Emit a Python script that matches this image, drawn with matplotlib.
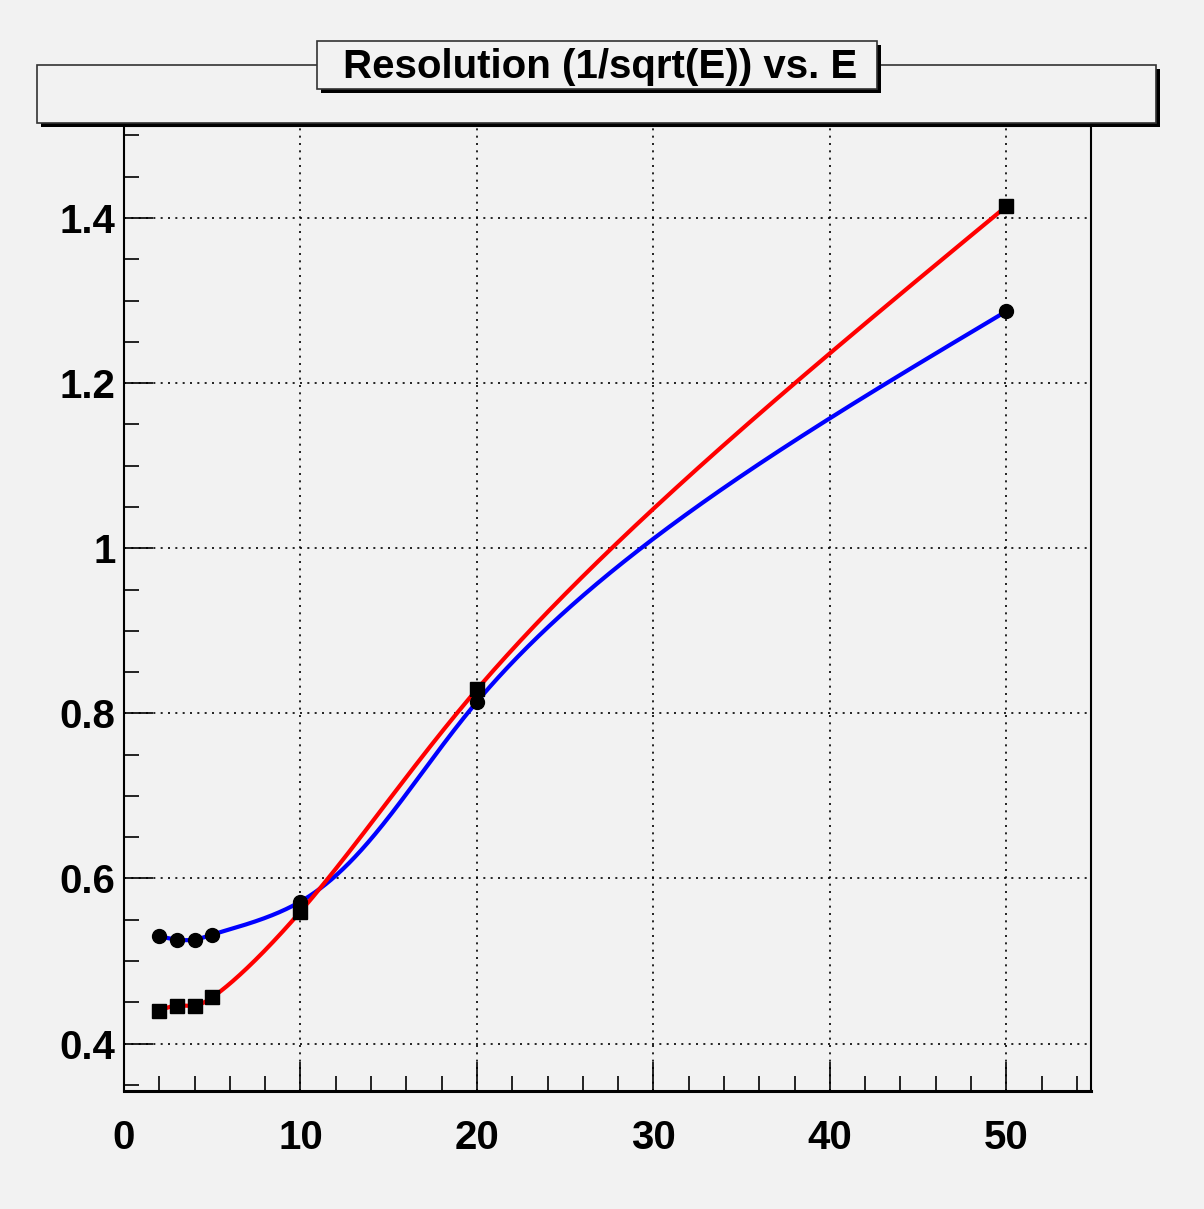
import numpy as np
import matplotlib
matplotlib.use("Agg")
import matplotlib.pyplot as plt
from matplotlib.patches import Rectangle
from matplotlib.ticker import FixedLocator

# ---- data ----
energy = [2, 3, 4, 5, 10, 20, 50]
res_blue = [0.530, 0.526, 0.526, 0.532, 0.572, 0.814, 1.287]
res_red = [0.440, 0.446, 0.446, 0.456, 0.560, 0.829, 1.414]
title = "Resolution (1/sqrt(E)) vs. E"
xticks = [0, 10, 20, 30, 40, 50]
yticks = [0.4, 0.6, 0.8, 1.0, 1.2, 1.4]
ytick_labels = ["0.4", "0.6", "0.8", "1", "1.2", "1.4"]

BG = "#f2f2f2"
W, H = 1204, 1209
plt.rcParams["font.family"] = ["Liberation Sans", "DejaVu Sans"]
fig = plt.figure(figsize=(W / 100, H / 100), dpi=100, facecolor=BG)

L, R, T, B = 124, 1091, 126, 1091
ax = fig.add_axes([L / W, 1 - B / H, (R - L) / W, (B - T) / H], facecolor=BG)
xmin, xmax = 0, 54.8
ymin, ymax = 0.3426, 1.5114
ax.set_xlim(xmin, xmax)
ax.set_ylim(ymin, ymax)


def natural_spline(t, v, tt):
    n = len(t)
    h = np.diff(t)
    A = np.zeros((n, n))
    rhs = np.zeros(n)
    A[0, 0] = 1
    A[-1, -1] = 1
    for i in range(1, n - 1):
        A[i, i - 1] = h[i - 1]
        A[i, i] = 2 * (h[i - 1] + h[i])
        A[i, i + 1] = h[i]
        rhs[i] = 3 * ((v[i + 1] - v[i]) / h[i] - (v[i] - v[i - 1]) / h[i - 1])
    c = np.linalg.solve(A, rhs)
    out = np.empty_like(tt)
    for k, x in enumerate(tt):
        i = min(max(np.searchsorted(t, x) - 1, 0), n - 2)
        dx = x - t[i]
        b = (v[i + 1] - v[i]) / h[i] - h[i] * (2 * c[i] + c[i + 1]) / 3
        d = (c[i + 1] - c[i]) / (3 * h[i])
        out[k] = v[i] + b * dx + c[i] * dx ** 2 + d * dx ** 3
    return out


def smooth_curve(xs, ys, alpha=0.75):
    # parametric spline in screen space through the data points
    # (emulates ROOT's "C" smooth-curve draw option)
    sx = (R - L) / (xmax - xmin)
    sy = (B - T) / (ymax - ymin)
    px = np.asarray(xs, float) * sx
    py = np.asarray(ys, float) * sy
    t = np.concatenate([[0], np.cumsum(np.hypot(np.diff(px), np.diff(py)) ** alpha)])
    tt = np.linspace(0, t[-1], 800)
    return natural_spline(t, px, tt) / sx, natural_spline(t, py, tt) / sy


bx, by = smooth_curve(energy, res_blue)
rx, ry = smooth_curve(energy, res_red)
ax.plot(bx, by, color="#0000ff", lw=3.0, zorder=3, solid_capstyle="butt")
ax.plot(rx, ry, color="#ff0000", lw=3.0, zorder=3, solid_capstyle="butt")
ax.plot(energy, res_blue, "o", color="black", ms=10, zorder=4)
ax.plot(energy, res_red, "s", color="black", ms=9.5, zorder=4)

ax.xaxis.set_major_locator(FixedLocator(xticks))
ax.xaxis.set_minor_locator(FixedLocator(np.arange(2, 55, 2)))
ax.yaxis.set_major_locator(FixedLocator(yticks))
ax.yaxis.set_minor_locator(FixedLocator(np.round(np.arange(0.35, 1.51, 0.05), 2)))
ax.set_xticklabels([str(v) for v in xticks])
ax.set_yticklabels(ytick_labels)
ax.grid(True, which="major", color="black", linestyle=(0, (1.2, 3.2)), lw=1.2)
ax.tick_params(which="major", direction="in", length=21, width=1.2,
               labelsize=29, pad=6, top=False, right=False)
ax.tick_params(axis="x", which="major", pad=20)
ax.tick_params(which="minor", direction="in", length=10.5, width=1.2,
               top=False, right=False)
for lab in ax.get_xticklabels() + ax.get_yticklabels():
    lab.set_fontweight("bold")
for s in ["left", "right", "top"]:
    ax.spines[s].set_linewidth(1.5)
ax.spines["bottom"].set_linewidth(2.2)


def pave(x0, y0, x1, y1, z, sh=4):
    fig.patches.append(Rectangle((x0 / W + sh / W, 1 - (y1 + sh) / H), (x1 - x0) / W, (y1 - y0) / H,
                                 transform=fig.transFigure, facecolor="black", edgecolor="none", zorder=z))
    fig.patches.append(Rectangle((x0 / W, 1 - y1 / H), (x1 - x0) / W, (y1 - y0) / H,
                                 transform=fig.transFigure, facecolor=BG, edgecolor="#333333", lw=1.2,
                                 zorder=z + 1))


pave(37, 65, 1156, 123, 5)
pave(317, 41, 877, 89, 7)
fig.text(600 / W, 1 - 67 / H, title, ha="center", va="center", fontsize=29,
         fontweight="bold", zorder=9)

fig.savefig("out.png", dpi=100, facecolor=BG)
